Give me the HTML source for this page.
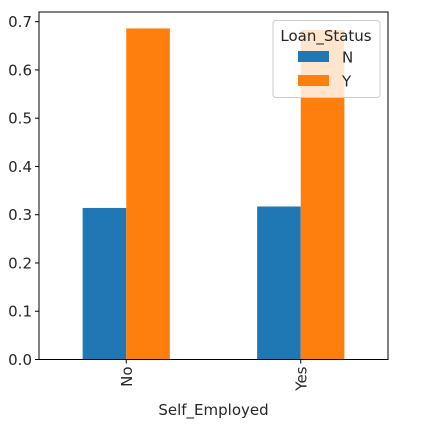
<!DOCTYPE html>
<html><head><meta charset="utf-8"><style>
body{margin:0;background:#fff;}
text{font-family:"DejaVu Sans","Liberation Sans",sans-serif;fill:#262626;}
</style></head><body>
<svg id="chart" width="422" height="427">
<g id="marks"></g>
<g id="axes"></g>
</svg>
<script>
const categories=["No","Yes"];
const seriesNames=["N","Y"];
const valuesN=[0.314,0.317];
const valuesY=[0.686,0.683];
const yTicks=[0,0.1,0.2,0.3,0.4,0.5,0.6,0.7];
const colors=["#1f77b4","#ff7f0e"];
const L=39,R=388,T=12,B=359.5,yMax=0.72;
const FS=15;
const ns="http://www.w3.org/2000/svg";
function y(v){return B-(v/yMax)*(B-T);}
function x(i){return L+(i+0.5)*(R-L)/categories.length;}
const bw=0.25*(R-L)/categories.length;
const marks=document.getElementById('marks');
const axes=document.getElementById('axes');
function mk(tag,attrs,parent){const e=document.createElementNS(ns,tag);for(const k in attrs)e.setAttribute(k,attrs[k]);parent.appendChild(e);return e;}
[valuesN,valuesY].forEach((vals,s)=>{
  vals.forEach((v,i)=>{
    const r=mk('rect',{x:x(i)+(s-1)*bw,y:y(v),width:bw,height:B-y(v),fill:colors[s]},marks);
    
    
  });
});
const f=mk('rect',{x:L,y:T,width:R-L,height:B-T,fill:'none',stroke:'#000','stroke-width':1},axes);


yTicks.forEach(t=>{
  mk('line',{x1:L-4,x2:L,y1:y(t),y2:y(t),stroke:'#000'},axes);
  const tx=mk('text',{x:L-7,y:y(t)+5.5,'text-anchor':'end','font-size':FS},axes);
  tx.textContent=t.toFixed(1);
  
  
});
categories.forEach((c,i)=>{
  mk('line',{x1:x(i),x2:x(i),y1:B,y2:B+4,stroke:'#000'},axes);
  const tx=mk('text',{x:0,y:0,'text-anchor':'end','font-size':FS,transform:`translate(${x(i)+5.5},${B+7}) rotate(-90)`},axes);
  tx.textContent=c;
  
  
});
const xt=mk('text',{x:(L+R)/2,y:415,'text-anchor':'middle','font-size':FS},axes);
xt.textContent='Self_Employed';


const lg=mk('g',{},axes);


mk('rect',{x:273,y:20.5,width:107,height:77,rx:3,fill:'#fff','fill-opacity':0.8,stroke:'#ccc'},lg);
const lt=mk('text',{x:326,y:41,'text-anchor':'middle','font-size':FS},lg);
lt.textContent='Loan_Status';
seriesNames.forEach((n,s)=>{
  const e=mk('g',{},lg);
  
  
  mk('rect',{x:298,y:51+s*24,width:31,height:11,fill:colors[s]},e);
  const t=mk('text',{x:342,y:62.5+s*24,'font-size':FS},e);
  t.textContent=n;
});
</script>
</body></html>
